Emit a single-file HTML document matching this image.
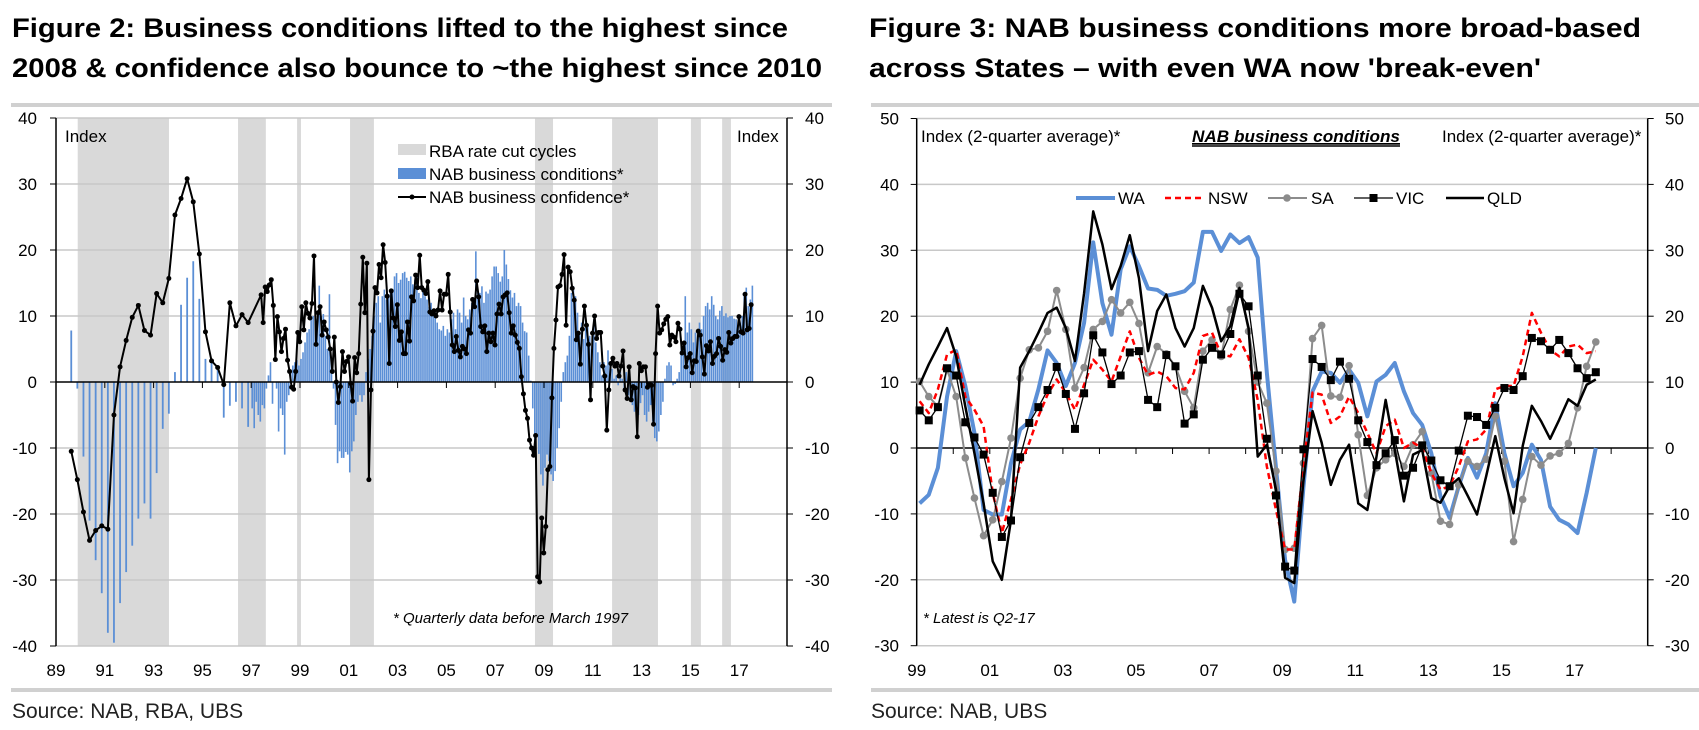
<!DOCTYPE html>
<html><head><meta charset="utf-8"><style>
html,body{margin:0;padding:0;background:#fff;width:1699px;height:730px;overflow:hidden}
svg{display:block;font-family:"Liberation Sans",Arial,sans-serif}
</style></head><body>
<svg id="svg" width="1699" height="730" viewBox="0 0 1699 730" xmlns="http://www.w3.org/2000/svg">
<g font-weight="bold" font-size="27" fill="#000">
<text x="12" y="37" textLength="776" lengthAdjust="spacingAndGlyphs">Figure 2: Business conditions lifted to the highest since</text>
<text x="12" y="77" textLength="810" lengthAdjust="spacingAndGlyphs">2008 &amp; confidence also bounce to ~the highest since 2010</text>
</g>
<g font-weight="bold" font-size="27" fill="#000">
<text x="869" y="37" textLength="772" lengthAdjust="spacingAndGlyphs">Figure 3: NAB business conditions more broad-based</text>
<text x="869" y="77" textLength="672" lengthAdjust="spacingAndGlyphs">across States – with even WA now 'break-even'</text>
</g>
<rect x="11" y="103" width="821" height="4" fill="#d0d0d0"/>
<rect x="871" y="103" width="828" height="4" fill="#d0d0d0"/>
<rect x="11" y="688" width="821" height="4" fill="#d0d0d0"/>
<rect x="871" y="688" width="828" height="4" fill="#d0d0d0"/>
<text x="12" y="718" font-size="21" fill="#222">Source: NAB, RBA, UBS</text>
<text x="871" y="718" font-size="21" fill="#222">Source:  NAB, UBS</text>
<g id="left"></g>
<g id="right"></g>
</svg>
<script>
// ---------- LEFT CHART DATA ----------
const yTicksL = [40,30,20,10,0,-10,-20,-30,-40];
const xLabelsL = ["89","91","93","95","97","99","01","03","05","07","09","11","13","15","17"];
const xLabelYearsL = [1989,1991,1993,1995,1997,1999,2001,2003,2005,2007,2009,2011,2013,2015,2017];
const rateCutStarts = [1989.89,1996.46,1998.88,2001.05,2008.63,2011.79,2015.02,2016.3];
const rateCutEnds   = [1993.63,1997.6,1999.04,2002.03,2009.37,2013.67,2015.43,2016.66];
const condQuarterlyStart = 1989.625;
const condQuarterly = [7.8,-1,-11.3,-21,-27,-32,-38,-39.5,-33.5,-28.8,-24.8,-20.7,-18.4,-20.7,-13.8,-7.1,-4.8,1.5,11.7,15.8,18.3,12.6,3.5,3.4,2,-5.4,-3.6,-3,-4,-6.8];
const condMonthlyStart = 1997.04;
const condMonthly = [
-4,-7,-3,-5,-6,-3.5,-4,-1,1,3,-3.3,0,
-1,-7.5,-4,-5,-11,-3,-2,1.5,2.5,3,3.3,2.5,
3.5,4.5,6,7.5,8,9.5,10,11.5,9.5,14.6,10,10.3,
7,5,13.3,3,-1,-6.5,-12.3,-10.5,-11.5,-11.5,-10.6,-11,
-13.7,-10.5,-9,-5,-3,-2,-3,-2,1.5,3.5,5,7,
10,12,13,9,13,14,12.5,13,13.5,14,16,16.5,
15,15.5,16.5,16.7,15.8,15.3,16,14.8,15.5,16,13.5,12.7,
14,13,12.5,11.4,12,11,10.5,9,8,7.8,8.5,7,
8,7.5,9.5,10.5,8,11,10.5,9,12.8,10,9.5,11,
12,12.3,19.8,13.6,13.5,14.5,12,13.7,13.4,14,16,17.5,
17.5,16.5,15.2,16,20,17.8,15.6,13.9,12.8,13.5,11.5,12,
11.5,9,7.7,7.5,4,0.2,-4,-9,-8,-10.9,-14,-15.7,
-13,-11,-12,-14,-15,-13.5,-10,-7,-3,1.5,3,4,
7,13.5,14.5,13,10.5,7.4,9,6.5,10,8.5,7,5,
9.5,6,4.5,3,1,3,2.5,4.8,3,2,0.5,1,
-0.5,2,0.5,-1,1.5,-2,-3,-3.5,-4.5,-4,-5,-3.2,
-2,-5,-6,-4.5,-3.5,-6,-8.5,-9,-7.5,-5,-3,0.5,
2.5,3,2.5,-0.5,-0.3,0.5,1.5,5.5,5.5,13,7.5,9,
8,6,7.5,6,9,8,10,11.5,12,11,13,11.7,
10,9.5,10.8,11.5,10,10.4,9.8,10,10,9.6,9.5,8.5,
9,10,13,14.3,11.5,12.5,14.6];
const confQuarterlyStart = 1989.625;
const confQuarterly = [-10.5,-14.8,-19.7,-24,-22.5,-21.8,-22.3,-5,2.3,6.3,9.8,11.6,7.8,7.1,13.4,12,15.7,25.3,27.8,30.8,27.3,19.4,7.6,3.2,2.2,-0.4,12,8.5,10.2,9];
const confMonthlyEnd = 2017.49;
const confMonthly = [13.2,9,14.4,13.7,14.7,15.5,11.6,3.4,9.9,7.6,4.6,6.6,8,3.3,1.6,-0.8,-1.1,1.6,7.5,6.1,11.4,7.9,12,10.4,9.7,11.9,19.1,5.7,10.5,11.4,7.1,9.1,7.9,6.8,5,1.6,6.8,0,-3.1,-0.7,4.6,1.6,3.1,3.8,-0.2,-2.9,3.7,1.4,4.3,11.8,18.9,10.5,18,-14.8,-1.2,7.7,14.3,13.5,17.8,15.8,20.8,18.1,13,2.8,13.8,9.7,8.4,11.7,6.3,7.6,4.3,4.3,9.1,6.2,12.9,12.3,16.2,14.3,19.2,14.3,13.9,13.4,15.2,10.6,10.3,10.8,10,10.9,13.8,10.9,13.3,13.3,16.3,10.6,5.6,4.6,6.9,4.8,3.8,5.4,5,4.3,7.9,7.4,12.5,11.4,15.3,12.9,8.4,7.6,8.5,4.6,7.4,6.1,7.4,5.6,10.3,11.8,10.3,12.9,13.2,13.5,10.5,7.4,8.5,7.1,6,5.1,0.8,-1.8,-4.3,-5.5,-8.8,
-10,-11.1,-8.1,-29.5,-30.3,-20.6,-25.9,-21.9,-13.3,-12.8,-2.4,
5.1,9.4,14.4,14.6,16.3,19.3,8.6,17.4,16.7,14.2,12.4,6.4,7.4,2.7,8,11.5,8.6,5.7,-2.7,7.4,10,6.6,7.5,7.5,2.4,0.9,-7.3,-1.2,2.8,3.6,2.4,2.8,0.9,2.4,4.7,-1.2,-2.5,2.3,-2.7,-0.7,-0.9,-8.3,2.8,1.7,2.3,2.3,-0.8,-0.3,-0.5,-6.4,4.3,11.5,7.4,7.9,8.8,9.5,9.9,5.6,7.1,6.8,6.1,8.9,8,4.4,5.9,2.3,3.7,4.3,1.4,3.2,3.1,7.7,7.1,3.8,1.2,5.5,4.7,6.1,2.8,3.9,4.3,6.6,5.4,3.3,4.9,4.5,7.5,5.9,6.6,6.9,6.9,9.9,7.6,7.4,13.3,7.9,8.1,11.7];

// ---------- RIGHT CHART DATA ----------
const yTicksR = [50,40,30,20,10,0,-10,-20,-30];
const xLabelsR = ["99","01","03","05","07","09","11","13","15","17"];
const xLabelYearsR = [1999,2001,2003,2005,2007,2009,2011,2013,2015,2017];
const stateStart = 1999.08;
const waValues = [-8.4,-7.1,-3,7.8,14.7,9.4,2.3,-9.4,-10.1,-10.1,-2.3,2.8,4,8.9,14.8,12.9,9.4,12.9,19,31.2,22,17.2,27.1,30.6,27.6,24.2,24,23.1,23.4,23.8,25.1,32.8,32.8,29.9,32.4,31.1,32,28.9,11.4,-3,-17,-23.3,-6,8.6,11.6,11.4,9.9,11.9,9.9,4.8,10.1,11.1,12.9,8.6,5.3,3.5,-0.8,-7.3,-10.6,-5.8,-1.5,-4.5,-0.8,6.8,-0.8,-5.8,-3.8,0.5,-1.8,-8.9,-10.9,-11.6,-12.9,-6.8,0];
const nswValues = [7.1,5.3,8.9,14.2,14.9,7.8,5.8,3.3,-6.8,-12.9,-7.8,-2.5,0.8,4.8,8.1,10.4,8.4,5.8,9.6,13.4,11.9,10.1,13.9,17.7,13.7,11.1,11.6,10.9,9.1,8.9,11.4,17,17.5,14.2,13.9,16.5,13.7,7.3,-2.8,-9.4,-15.4,-15.4,-2.8,8.4,8.1,3.8,4.8,7.8,5.3,2.3,-0.8,3.3,4.3,0,0.8,0,-3.8,-6.3,-5.8,-2.8,1,1.3,2.8,8.9,9.4,9.4,13.9,20.5,17.5,14.9,13.9,15.4,15.7,14.4,14.7];
const saValues = [10.1,7.8,6.3,11.9,7.8,-1.5,-7.6,-13.3,-10.9,-5.1,1.5,10.6,14.9,15.2,17.7,23.9,18,9.1,12.2,18,19.2,22.5,20.5,22.1,18.9,11.4,15.4,14.3,12.4,8.6,6.1,14.7,16.4,13.9,21,24.7,17.7,10,6.8,-3.5,-15.4,-15.2,-2.3,16.6,18.6,7.9,7.7,12.5,2,-7.2,-3,-1.8,-0.8,-2.8,0.5,2.5,-3.8,-11.1,-11.6,-5.6,-2,-2.8,-1.7,4.8,-2,-14.2,-7.8,-1.3,-2.6,-1.2,-0.8,0.7,6.1,12.4,16.1];
const vicValues = [5.7,4.2,6.2,12.1,11,3.9,1.6,-1,-6.8,-13.5,-11,-1.4,3.8,6.2,8.8,12.3,8.2,2.9,8.3,17.1,14.5,9.7,11,14.5,14.7,7.3,6.2,14.1,12.4,3.7,5.1,13.4,15.2,14.2,17.3,23.4,21.5,11,1.4,-7.2,-18,-18.6,-0.2,13.5,12.3,10.3,13.1,10.5,4.2,0.9,-2.6,-0.8,1.2,-4.2,-3,0.4,-1.9,-4.9,-5.8,-0.4,4.9,4.7,3.5,6.1,9.1,8.8,10.9,16.7,16.2,14.9,16.4,14.4,12.1,10.6,11.5];
const qldValues = [9.6,12.7,15.4,18.2,13.9,6.3,-0.8,-8.4,-17.2,-20,-10.9,12.2,14.7,17.5,20.5,21.3,18.2,13.2,23.5,35.9,30.9,24.1,27.6,32.3,25.8,14.7,20.8,23.3,18.2,15.4,18.2,24.6,21.3,16.2,18.5,24.3,18.2,-1.3,0.5,-6.3,-19.7,-20.5,-5,5.6,0.8,-5.6,-1.8,0.5,-8.4,-9.4,-1.3,7.3,-0.3,-8.1,-1,-0.3,-7.6,-8.3,-5.8,-4.6,-7.3,-10.1,-4.3,1.8,-4.6,-9.9,0.3,6.4,4.1,1.4,4.3,7.4,6.4,9.6,10.4];

const NS='http://www.w3.org/2000/svg';
function mk(parent, tag, attrs, text){
  const e=document.createElementNS(NS,tag);
  for(const k in attrs) e.setAttribute(k,attrs[k]);
  if(text!==undefined) e.textContent=text;
  parent.appendChild(e); return e;
}
const xL = t => 56 + (t-1989)*24.4;
const yL = v => 382 - v*6.6;
const xR = t => 916.7 + (t-1999)*36.55;
const yR = v => 448 - v*6.59;

// ================= LEFT =================
const L=document.getElementById('left');
rateCutStarts.forEach((s,i)=>{
  const r=mk(L,'rect',{x:xL(s),y:yL(40),width:xL(rateCutEnds[i])-xL(s),height:yL(-40)-yL(40),fill:'#d9d9d9'});
  
  
});
yTicksL.forEach(v=>{
  if(v!==0 && v!==-40){
    const g=mk(L,'line',{x1:56,x2:787,y1:yL(v),y2:yL(v),stroke:'#c8c8c8','stroke-width':1.5});
    
    
  }
  const t1=mk(L,'text',{x:37,y:yL(v)+6,'text-anchor':'end','font-size':17},String(v));
  
  
  const t2=mk(L,'text',{x:805,y:yL(v)+6,'font-size':17},String(v));
  
  
  mk(L,'line',{x1:50,x2:56,y1:yL(v),y2:yL(v),stroke:'#000'});
  mk(L,'line',{x1:787,x2:793,y1:yL(v),y2:yL(v),stroke:'#000'});
});
mk(L,'line',{x1:56,x2:787,y1:yL(-40),y2:yL(-40),stroke:'#c8c8c8','stroke-width':1.5});
condQuarterly.forEach((v,i)=>{
  const t=condQuarterlyStart+i*0.25;
  const b=mk(L,'rect',{x:xL(t)-0.9,y:Math.min(yL(v),yL(0)),width:1.8,height:Math.abs(yL(v)-yL(0)),fill:'#5b8fd6'});
  
  
});
condMonthly.forEach((v,i)=>{
  const t=condMonthlyStart+i/12;
  const b=mk(L,'rect',{x:xL(t)-0.8,y:Math.min(yL(v),yL(0)),width:1.6,height:Math.abs(yL(v)-yL(0)),fill:'#5b8fd6'});
  
  
});
mk(L,'line',{x1:56,x2:787,y1:yL(0),y2:yL(0),stroke:'#000','stroke-width':1.5});
mk(L,'line',{x1:56,x2:56,y1:yL(40),y2:yL(-40),stroke:'#000','stroke-width':1.5});
mk(L,'line',{x1:787,x2:787,y1:yL(40),y2:yL(-40),stroke:'#000','stroke-width':1.5});
xLabelYearsL.forEach((yr,i)=>{
  mk(L,'line',{x1:xL(yr),x2:xL(yr),y1:yL(0),y2:yL(0)+6,stroke:'#000'});
  const t=mk(L,'text',{x:xL(yr),y:676,'text-anchor':'middle','font-size':17},xLabelsL[i]);
  
  
});
const confPts=[];
confQuarterly.forEach((v,i)=>confPts.push([xL(confQuarterlyStart+i*0.25),yL(v)]));
const nM=confMonthly.length;
confMonthly.forEach((v,i)=>confPts.push([xL(confMonthlyEnd-(nM-1-i)/12),yL(v)]));
const cl=mk(L,'polyline',{points:confPts.map(p=>p.join(',')).join(' '),fill:'none',stroke:'#000','stroke-width':2,'stroke-linejoin':'round'});


confPts.forEach(p=>{
  const c=mk(L,'circle',{cx:p[0],cy:p[1],r:2.5,fill:'#000'});
  
  
});
let e;
e=mk(L,'text',{x:65,y:142,'font-size':17},'Index');


e=mk(L,'text',{x:737,y:142,'font-size':17},'Index');


e=mk(L,'rect',{x:398,y:144,width:28,height:11,fill:'#d9d9d9'});


e=mk(L,'text',{x:429,y:157,'font-size':17},'RBA rate cut cycles');


e=mk(L,'rect',{x:398,y:168,width:28,height:11,fill:'#5b8fd6'});


e=mk(L,'text',{x:429,y:180,'font-size':17},'NAB business conditions*');


e=mk(L,'line',{x1:398,x2:426,y1:197,y2:197,stroke:'#000','stroke-width':2});


mk(L,'circle',{cx:412,cy:197,r:2.5,fill:'#000'});
e=mk(L,'text',{x:429,y:203,'font-size':17},'NAB business confidence*');


e=mk(L,'text',{x:393,y:623,'font-size':15,'font-style':'italic'},'* Quarterly data before March 1997');



// ================= RIGHT =================
const R=document.getElementById('right');
yTicksR.forEach(v=>{
  if(v!==0){
    const g=mk(R,'line',{x1:916.7,x2:1647.7,y1:yR(v),y2:yR(v),stroke:'#c8c8c8','stroke-width':1.5});
    
    
  }
  const t1=mk(R,'text',{x:899,y:yR(v)+6,'text-anchor':'end','font-size':17},String(v));
  
  
  const t2=mk(R,'text',{x:1665,y:yR(v)+6,'font-size':17},String(v));
  
  
  mk(R,'line',{x1:910.7,x2:916.7,y1:yR(v),y2:yR(v),stroke:'#000'});
  mk(R,'line',{x1:1647.7,x2:1653.7,y1:yR(v),y2:yR(v),stroke:'#000'});
});
mk(R,'line',{x1:916.7,x2:1647.7,y1:yR(0),y2:yR(0),stroke:'#000','stroke-width':1.5});
mk(R,'line',{x1:916.7,x2:916.7,y1:yR(50),y2:yR(-30),stroke:'#000','stroke-width':1.5});
mk(R,'line',{x1:1647.7,x2:1647.7,y1:yR(50),y2:yR(-30),stroke:'#000','stroke-width':1.5});
for(let yr=2000; yr<=2018; yr++) mk(R,'line',{x1:xR(yr),x2:xR(yr),y1:yR(0),y2:yR(0)+6,stroke:'#000'});
xLabelYearsR.forEach((yr,i)=>{
  const t=mk(R,'text',{x:xR(yr),y:676,'text-anchor':'middle','font-size':17},xLabelsR[i]);
  
  
});
function pts(vals){return vals.map((v,i)=>[xR(stateStart+i*0.25),yR(v)]);}
function poly(p,attrs){
  return mk(R,'polyline',Object.assign({points:p.map(q=>q.join(',')).join(' '),fill:'none','stroke-linejoin':'round'},attrs));
}
let s;
s=poly(pts(waValues),{stroke:'#5b8fd6','stroke-width':4});


s=poly(pts(saValues),{stroke:'#8c8c8c','stroke-width':2});


pts(saValues).forEach(p=>{
  const c=mk(R,'circle',{cx:p[0],cy:p[1],r:3.8,fill:'#8c8c8c'});
  
  
});
s=poly(pts(nswValues),{stroke:'#ff0000','stroke-width':2.5,'stroke-dasharray':'6,4'});


s=poly(pts(qldValues),{stroke:'#000','stroke-width':2.5});


s=poly(pts(vicValues),{stroke:'#000','stroke-width':1.3});


pts(vicValues).forEach(p=>{
  const c=mk(R,'rect',{x:p[0]-4,y:p[1]-4,width:8,height:8,fill:'#000'});
  
  
});
e=mk(R,'text',{x:921,y:142,'font-size':17},'Index (2-quarter average)*');


e=mk(R,'text',{x:1442,y:142,'font-size':17},'Index (2-quarter average)*');


e=mk(R,'text',{x:1192,y:142,'font-size':17,'font-weight':'bold','font-style':'italic','text-decoration':'underline',textLength:208,lengthAdjust:'spacingAndGlyphs'},'NAB business conditions');


mk(R,'line',{x1:1192,x2:1400,y1:146,y2:146,stroke:'#000','stroke-width':1.5});
e=mk(R,'text',{x:923,y:623,'font-size':15,'font-style':'italic'},'* Latest is Q2-17');


e=mk(R,'line',{x1:1076,x2:1115,y1:198,y2:198,stroke:'#5b8fd6','stroke-width':4});


e=mk(R,'text',{x:1118,y:204,'font-size':17},'WA');


e=mk(R,'line',{x1:1165,x2:1205,y1:198,y2:198,stroke:'#ff0000','stroke-width':2.5,'stroke-dasharray':'6,4'});


e=mk(R,'text',{x:1208,y:204,'font-size':17},'NSW');


e=mk(R,'line',{x1:1268,x2:1307,y1:198,y2:198,stroke:'#8c8c8c','stroke-width':2});


mk(R,'circle',{cx:1287,cy:198,r:3.8,fill:'#8c8c8c'});
e=mk(R,'text',{x:1311,y:204,'font-size':17},'SA');


e=mk(R,'line',{x1:1354,x2:1393,y1:198,y2:198,stroke:'#000','stroke-width':1.3});


mk(R,'rect',{x:1369.5,y:194,width:8,height:8,fill:'#000'});
e=mk(R,'text',{x:1396,y:204,'font-size':17},'VIC');


e=mk(R,'line',{x1:1446,x2:1484,y1:198,y2:198,stroke:'#000','stroke-width':2.5});


e=mk(R,'text',{x:1487,y:204,'font-size':17},'QLD');


</script>
</body></html>
